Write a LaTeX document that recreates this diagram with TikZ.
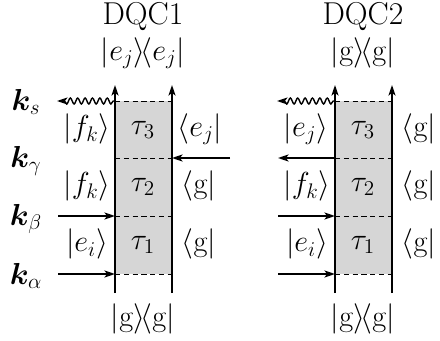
\documentclass[tikz,border=0pt]{standalone}
\usepackage{amsmath}
\usepackage{bm}
\usetikzlibrary{arrows.meta, decorations.pathmorphing}

\begin{document}
\begin{tikzpicture}[
				x=0.02cm, y=-0.02cm,
				>={Stealth[length=6pt, width=4pt, inset=1.5pt]},
				lab/.style={font=\fontsize{17}{20}\selectfont, inner sep=0pt},
				title/.style={font=\fontsize{18}{21}\selectfont, inner sep=0pt},
				klab/.style={font=\fontsize{17}{20}\selectfont, inner sep=0pt},
				side/.style={line width=1pt, ->},
				rung/.style={dashed, dash pattern=on 3pt off 2pt, thin},
				boxfill/.style={fill=gray!32},
				arr/.style={->, line width=1pt},
				wavearr/.style={->, line width=0.8pt, decorate, decoration={snake, amplitude=1.7pt, segment length=4.2pt, pre length=1pt, post length=4pt}}
			]
			\useasboundingbox (0,0) rectangle (440,341);

			% DQC1
			\coordinate (a_lb) at (115, 293);
			\coordinate (a_lt) at (115, 85);
			\coordinate (a_rb) at (172, 293);
			\coordinate (a_rt) at (172, 85);
			\foreach \n/\y in {3/101, 2/158, 1/216, 0/274} {
				\coordinate (a_l\n) at (115, \y);
				\coordinate (a_r\n) at (172, \y);
			}
			\fill[boxfill] (a_l0) rectangle (a_r3);
			\foreach \n in {0, 1, 2, 3} \draw[rung] (a_l\n) -- (a_r\n);
			\draw[side] (a_lb) -- (a_lt);
			\draw[side] (a_rb) -- (a_rt);
			\node[title] (a_title) at (143, 17) {DQC1};
			\node[lab] (a_top) at (143, 53) {$|e_j\rangle\!\langle e_j|$};
			\node[lab] (a_bot) at (143, 319) {$|\mathrm{g}\rangle\!\langle \mathrm{g}|$};
			\node[lab] (a_t3) at (143, 130) {$\tau_3$};
			\node[lab] (a_t2) at (143, 187) {$\tau_2$};
			\node[lab] (a_t1) at (143, 245) {$\tau_1$};
			\node[lab] (a_k3) at (87, 129) {$|f_k\rangle$};
			\node[lab] (a_k2) at (87, 186) {$|f_k\rangle$};
			\node[lab] (a_k1) at (87, 244) {$|e_i\rangle$};
			\node[lab] (a_b3) at (200, 129) {$\langle e_j|$};
			\node[lab] (a_b2) at (199, 186) {$\langle \mathrm{g}|$};
			\node[lab] (a_b1) at (199, 244) {$\langle \mathrm{g}|$};
			\coordinate (a_out3) at (57, 101);
			\coordinate (a_in2) at (230, 158);
			\coordinate (a_in1) at (58, 216);
			\coordinate (a_in0) at (58, 274);
			\draw[wavearr] (a_l3) -- (a_out3);
			\draw[arr] (a_in2) -- (a_r2);
			\draw[arr] (a_in1) -- (a_l1);
			\draw[arr] (a_in0) -- (a_l0);
			\node[klab] (k_s) at (26, 102) {$\bm{k}_s$};
			\node[klab] (k_g) at (26, 161) {$\bm{k}_\gamma$};
			\node[klab] (k_b) at (26, 219) {$\bm{k}_\beta$};
			\node[klab] (k_a) at (26, 276) {$\bm{k}_\alpha$};

			% DQC2
			\coordinate (b_lb) at (335, 293);
			\coordinate (b_lt) at (335, 85);
			\coordinate (b_rb) at (392, 293);
			\coordinate (b_rt) at (392, 85);
			\foreach \n/\y in {3/101, 2/158, 1/216, 0/274} {
				\coordinate (b_l\n) at (335, \y);
				\coordinate (b_r\n) at (392, \y);
			}
			\fill[boxfill] (b_l0) rectangle (b_r3);
			\foreach \n in {0, 1, 2, 3} \draw[rung] (b_l\n) -- (b_r\n);
			\draw[side] (b_lb) -- (b_lt);
			\draw[side] (b_rb) -- (b_rt);
			\node[title] (b_title) at (363, 17) {DQC2};
			\node[lab] (b_top) at (363, 53) {$|\mathrm{g}\rangle\!\langle \mathrm{g}|$};
			\node[lab] (b_bot) at (363, 319) {$|\mathrm{g}\rangle\!\langle \mathrm{g}|$};
			\node[lab] (b_t3) at (363, 130) {$\tau_3$};
			\node[lab] (b_t2) at (363, 187) {$\tau_2$};
			\node[lab] (b_t1) at (363, 245) {$\tau_1$};
			\node[lab] (b_k3) at (306, 129) {$|e_j\rangle$};
			\node[lab] (b_k2) at (307, 186) {$|f_k\rangle$};
			\node[lab] (b_k1) at (307, 244) {$|e_i\rangle$};
			\node[lab] (b_b3) at (419, 129) {$\langle \mathrm{g}|$};
			\node[lab] (b_b2) at (419, 186) {$\langle \mathrm{g}|$};
			\node[lab] (b_b1) at (419, 244) {$\langle \mathrm{g}|$};
			\coordinate (b_out3) at (277, 101);
			\coordinate (b_out2) at (278, 158);
			\coordinate (b_in1) at (278, 216);
			\coordinate (b_in0) at (278, 274);
			\draw[wavearr] (b_l3) -- (b_out3);
			\draw[arr] (b_l2) -- (b_out2);
			\draw[arr] (b_in1) -- (b_l1);
			\draw[arr] (b_in0) -- (b_l0);

		\end{tikzpicture}
\end{document}
